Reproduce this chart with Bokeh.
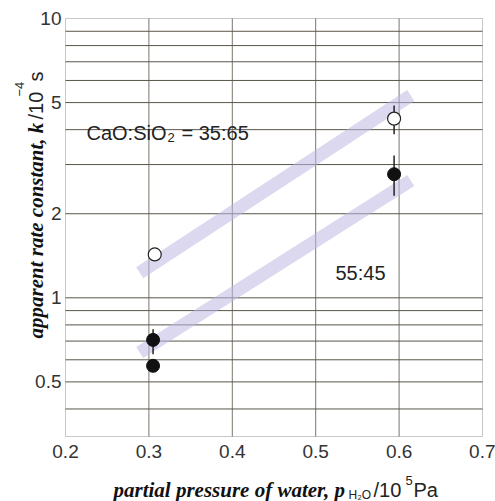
import math
from bokeh.plotting import figure
from bokeh.models import (FixedTicker, CustomJSTickFormatter, Label, Range1d,
                          LinearAxis, LogAxis, BoxAnnotation)
from bokeh.embed import file_html
from bokeh.resources import INLINE

# ---------------- data ----------------
x_ticks = [0.2, 0.3, 0.4, 0.5, 0.6, 0.7]
x_grid = [0.3, 0.4, 0.5, 0.6]
y_ticks = [0.5, 1, 2, 5, 10]
y_grid = [0.4, 0.5, 0.6, 0.7, 0.8, 0.9, 1, 2, 3, 4, 5, 6, 7, 8, 9]

open_x = [0.307, 0.594]          # CaO:SiO2 = 35:65
open_y = [1.43, 4.38]
open_err_x = [0.594]
open_err_lo = [3.85]
open_err_hi = [4.88]

filled_x = [0.305, 0.305, 0.594]  # 55:45
filled_y = [0.707, 0.571, 2.77]
filled_err_x = [0.305, 0.594]
filled_err_lo = [0.628, 2.32]
filled_err_hi = [0.772, 3.23]

band_x = [0.289, 0.614]
band_upper = [1.23, 5.30]
band_lower = [0.637, 2.63]

# ---------------- layout constants ----------------
W, H = 495, 501
X_LO, X_HI = 0.2, 0.7
Y_LO, Y_HI = 0.3188, 10.0
PX_L, PX_R, PX_T, PX_B = 65, 482, 18, 436       # plot box in canvas pixels
xs = (PX_R - PX_L) / (X_HI - X_LO)
dec = (PX_B - PX_T) / math.log10(Y_HI / Y_LO)
xr0 = X_LO - PX_L / xs
xr1 = xr0 + W / xs
yr1 = 10 ** (math.log10(Y_HI) + PX_T / dec)
yr0 = 10 ** (math.log10(Y_HI) - (H - PX_T) / dec)

p = figure(width=W, height=H, output_backend="svg", toolbar_location=None,
           x_range=Range1d(xr0, xr1), y_range=Range1d(yr0, yr1),
           y_axis_type="log", x_axis_location=None, y_axis_location=None,
           min_border=0)
p.background_fill_color = "white"
p.border_fill_color = "white"
p.outline_line_color = None
p.xgrid.visible = False
p.ygrid.visible = False

# axes (drawn at the plot box edges)
xaxis = LinearAxis(fixed_location=Y_LO, bounds=(X_LO, X_HI),
                   ticker=FixedTicker(ticks=x_ticks),
                   formatter=CustomJSTickFormatter(code="return tick.toFixed(1)"))
yaxis = LogAxis(fixed_location=X_LO, bounds=(Y_LO, Y_HI),
                ticker=FixedTicker(ticks=y_ticks),
                formatter=CustomJSTickFormatter(code="return String(Math.round(tick*10)/10)"))
for ax in (xaxis, yaxis):
    ax.axis_line_color = None
    ax.major_tick_line_color = None
    ax.minor_tick_line_color = None
    ax.major_tick_in = 0
    ax.major_tick_out = 0
    ax.minor_tick_in = 0
    ax.minor_tick_out = 0
    ax.major_label_text_font = "Liberation Sans"
    ax.major_label_text_font_size = "19px"
    ax.major_label_text_color = "#333333"
xaxis.major_label_standoff = 8
yaxis.major_label_standoff = 4
p.add_layout(xaxis, "below")
p.add_layout(yaxis, "left")

# grid lines
p.segment(x0=x_grid, y0=[Y_LO] * len(x_grid), x1=x_grid, y1=[Y_HI] * len(x_grid),
          line_color="#7a766c", line_width=1)
p.segment(x0=[X_LO] * len(y_grid), y0=y_grid, x1=[X_HI] * len(y_grid), y1=y_grid,
          line_color="#5a554b", line_width=1)

# plot box
p.add_layout(BoxAnnotation(left=X_LO, right=X_HI, bottom=Y_LO, top=Y_HI,
                           fill_alpha=0, line_color="#444444", line_width=1))

# bands
p.line(band_x, band_upper, line_width=13, line_color="#c0b8e2", line_alpha=0.55)
p.line(band_x, band_lower, line_width=13, line_color="#c0b8e2", line_alpha=0.55)

# error bars
p.segment(x0=open_err_x, y0=open_err_lo, x1=open_err_x, y1=open_err_hi,
          line_color="#222222", line_width=1.5)
p.segment(x0=filled_err_x, y0=filled_err_lo, x1=filled_err_x, y1=filled_err_hi,
          line_color="#222222", line_width=1.5)

# markers
p.scatter(open_x, open_y, marker="circle", size=13, fill_color="white",
          line_color="#222222", line_width=1.2)
p.scatter(filled_x, filled_y, marker="circle", size=13, fill_color="#111111",
          line_color="#111111", line_width=1)

# ---------------- texts (canvas pixel positions, y from top) ----------------
def lab(text, cx, cy, size, font="Liberation Sans", style="normal", angle=0, color="#222222"):
    p.add_layout(Label(x=cx, y=H - cy, x_units="screen", y_units="screen",
                       text=text, text_font=font, text_font_size=f"{size}px",
                       text_font_style=style, text_color=color, angle=angle,
                       text_align="left", text_baseline="alphabetic"))

lab("CaO:SiO", 86, 132, 20)
lab("2", 167, 137, 13)
lab("= 35:65", 181, 132, 20)
lab("55:45", 335, 272, 20)

# x-axis title
lab("partial pressure of water, p", 113, 489, 21, font="Liberation Serif", style="bold italic", color="#111111")
lab("H\u2082O", 348, 494, 12)
lab("/10", 373, 489, 20)
lab("5", 405, 480, 13)
lab("Pa", 413, 489, 20)

# y-axis title (rotated)
A = math.pi / 2
lab("apparent rate constant, k", 35, 338, 21, font="Liberation Serif", style="bold italic", angle=A, color="#111111")
lab("/10", 35, 119, 20, angle=A)
lab("\u22124", 19, 96, 13, angle=A)
lab("s", 35, 81, 20, angle=A)

open("out.html", "w").write(file_html(p, INLINE))
